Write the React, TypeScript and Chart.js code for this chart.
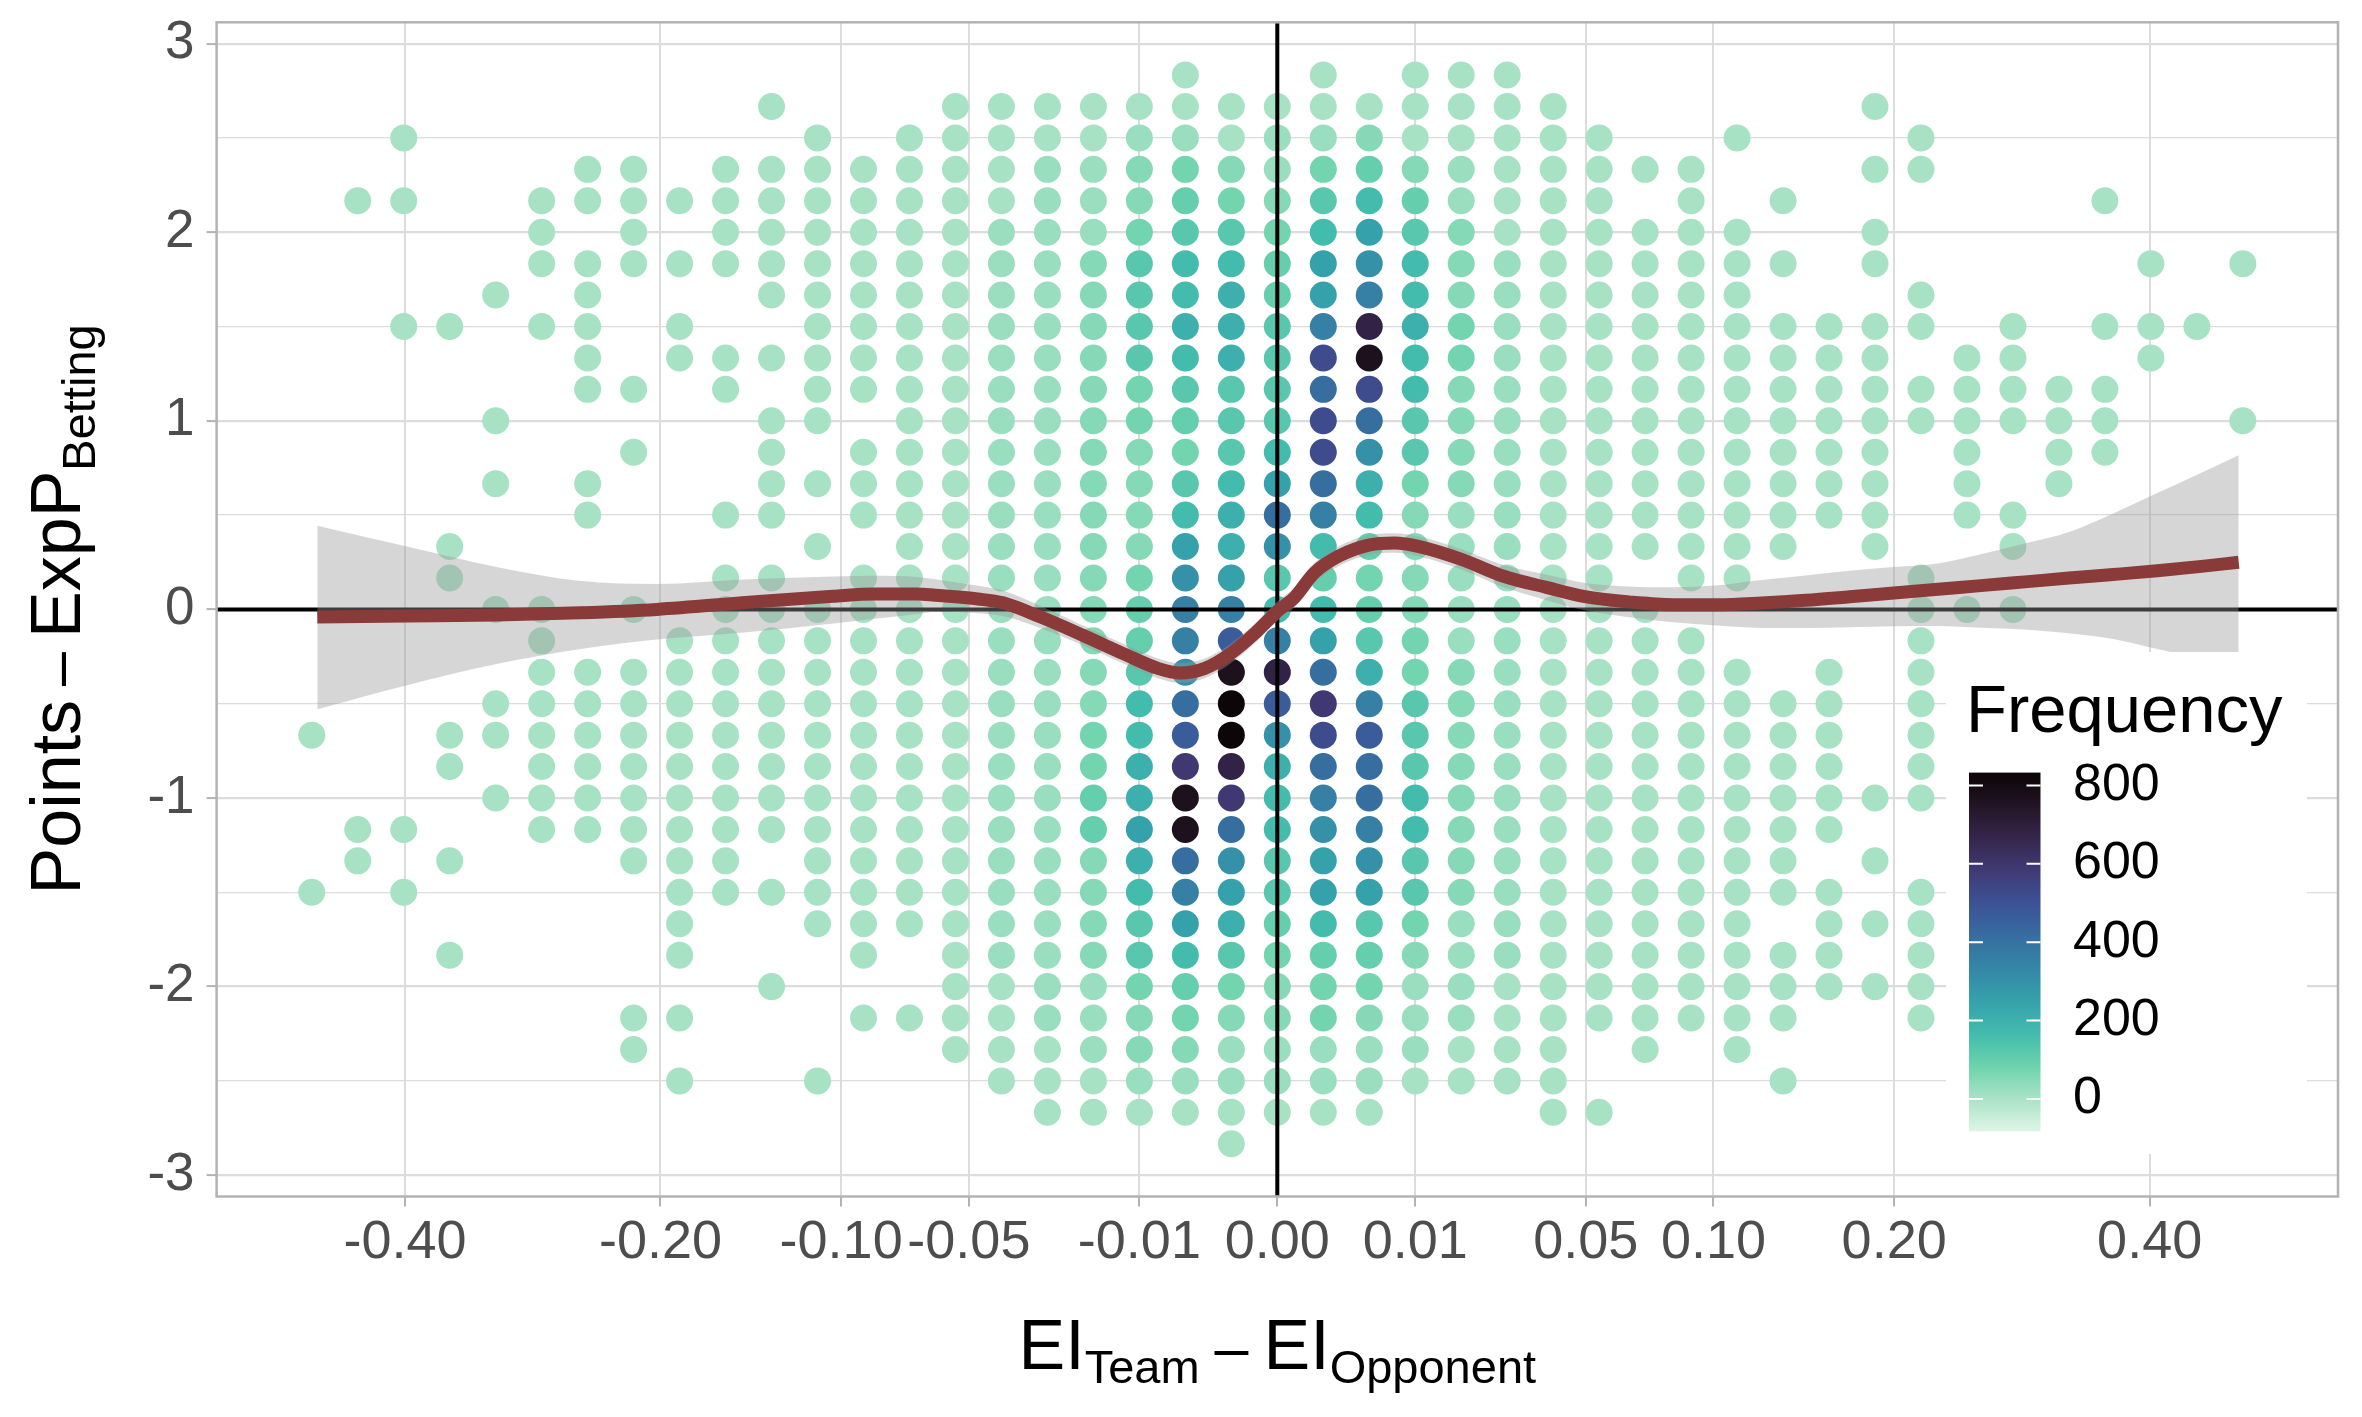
import React, { useEffect, useRef } from 'react';
import { Chart, registerables } from 'chart.js';

Chart.register(...registerables);

const FONT = "'Liberation Sans', Arial, sans-serif";
const W = 2362;
const H = 1417;

// x is drawn on a signed square-root scale: the dot columns are 1/30 apart there,
// rows are 1/6 of a point apart
const X_BIN = 1 / 30;
const Y_BIN = 1 / 6;
const FIRST_COL = -21;
const TOP_ROW = 17;

// frequency ('.' = empty cell)
const FREQ_CODE: Record<string, number> = {
    '1': 3, '2': 25, '3': 50, '4': 75, '5': 100, '6': 125, '7': 165, '8': 205, '9': 250,
    a: 300, b: 355, c: 415, d: 470, e: 525, f: 590, g: 680, h: 770, i: 825
};

// one string per column (x = -21/30 ... 21/30), rows from 2.83 down to -2.83, five per group
const COLUMNS = [
    '..... ..... ..... ..... .1... .1... .....',
    '....1 ..... ..... ..... ....1 1.... .....',
    '..1.1 ...1. ..... ..... ....1 .1... .....',
    '..... ...1. ..... 11... .11.. 1..1. .....',
    '..... ..1.. .1.1. ..1.. 11.1. ..... .....',
    '....1 11.1. ..... ..111 11111 ..... .....',
    '...11 .1111 1..11 ....1 11111 ..... .....',
    '...11 11... 1.1.. ..1.1 11111 1.... 11...',
    '....1 .1.11 ..... ...11 11111 1111. 1.1..',
    '...11 11..1 1...1 .1111 11111 11... .....',
    '.1.11 111.1 .1111 .1111 11111 .1..1 .....',
    '..111 11111 11.1. 1.111 11111 111.. ..1..',
    '...11 11111 1.111 .1111 11111 1111. 1....',
    '..111 11111 11111 11111 11111 111.. 1....',
    '.1111 11111 11111 11111 11111 11111 11...',
    '.1111 22222 22222 22222 22222 22221 111..',
    '.1122 22222 22222 22222 22222 22222 2111.',
    '.1122 23333 33333 33333 34455 33332 2211.',
    '.1233 46666 44333 34556 77889 87664 3321.',
    '11245 67787 65467 9abba cdfhh cb975 4321.',
    '.1134 67888 66678 89bdh iigfc a9864 32211',
    '.1223 45566 6679c a67bg da877 66543 3221.',
    '11246 799be ceecb 7579c fecba 99754 4221.',
    '.1357 9abgh eca87 54568 bdccb a9654 3221.',
    '11135 67787 76643 33344 66677 66432 221..',
    '11122 33344 33332 22223 33333 33222 211..',
    '11111 12222 22222 22222 22222 22221 111..',
    '.1111 11111 11111 11111 11111 11111 1111.',
    '..111 11111 11111 11111 11111 11111 1..1.',
    '...1. 11111 11111 1.111 11111 11111 11...',
    '...11 11111 11111 11.11 11111 11111 1....',
    '..1.. 11111 11111 11..1 11111 11111 11...',
    '....1 .1.11 11111 1.... 11111 11.11 1.1..',
    '..... ...11 11111 ....1 11111 .1111 .....',
    '.1.1. 11.11 11111 1.... ...1. 1.1.1 .....',
    '..11. ..11. 11... .1111 1111. .1111 1....',
    '..... ....1 11111 ..1.. ..... ..... .....',
    '..... ...11 11..1 1.1.. ..... ..... .....',
    '..... ..... 1111. ..... ..... ..... .....',
    '....1 ...1. 111.. ..... ..... ..... .....',
    '..... .1.11 ..... ..... ..... ..... .....',
    '..... ...1. ..... ..... ..... ..... .....',
    '..... .1... .1... ..... ..... ..... .....'
];

// loess fit with its confidence band; x on the signed-sqrt scale
const SMOOTH_S = [
    -0.696, -0.631, -0.566, -0.505, -0.450, -0.383, -0.322, -0.292, -0.261, -0.248,
    -0.217, -0.199, -0.172, -0.141, -0.110, -0.086, -0.071, -0.053, -0.034, -0.016,
    0.000, 0.012, 0.027, 0.045, 0.067, 0.085, 0.103, 0.134, 0.164, 0.195,
    0.223, 0.255, 0.287, 0.319, 0.351, 0.383, 0.415, 0.447, 0.479, 0.510,
    0.542, 0.574, 0.606, 0.638, 0.670, 0.697
];
const SMOOTH_FIT = [
    -0.040, -0.035, -0.030, -0.018, 0.000, 0.038, 0.070, 0.082, 0.082, 0.075,
    0.055, 0.035, -0.039, -0.137, -0.240, -0.314, -0.337, -0.314, -0.235, -0.125,
    -0.010, 0.060, 0.195, 0.284, 0.342, 0.352, 0.333, 0.264, 0.176, 0.117,
    0.068, 0.040, 0.025, 0.025, 0.034, 0.048, 0.067, 0.087, 0.107, 0.126,
    0.146, 0.166, 0.185, 0.205, 0.228, 0.250
];
const SMOOTH_HIGH = [
    0.444, 0.333, 0.225, 0.150, 0.135, 0.160, 0.175, 0.178, 0.172, 0.160,
    0.125, 0.100, 0.020, -0.085, -0.188, -0.262, -0.285, -0.262, -0.183, -0.073,
    0.042, 0.112, 0.247, 0.336, 0.394, 0.404, 0.385, 0.318, 0.235, 0.185,
    0.140, 0.122, 0.118, 0.128, 0.156, 0.180, 0.205, 0.225, 0.244, 0.293,
    0.350, 0.411, 0.509, 0.617, 0.725, 0.817
];
const SMOOTH_LOW = [
    -0.529, -0.402, -0.290, -0.210, -0.160, -0.120, -0.075, -0.050, -0.025, -0.012,
    -0.020, -0.035, -0.098, -0.190, -0.292, -0.366, -0.389, -0.366, -0.287, -0.177,
    -0.062, 0.008, 0.143, 0.232, 0.290, 0.300, 0.281, 0.210, 0.117, 0.049,
    -0.005, -0.042, -0.068, -0.085, -0.098, -0.099, -0.095, -0.089, -0.088, -0.097,
    -0.107, -0.127, -0.157, -0.210, -0.262, -0.317
];

const X_TICKS = [-0.4, -0.2, -0.1, -0.05, -0.01, 0, 0.01, 0.05, 0.1, 0.2, 0.4];
const X_TICK_LABELS = ['-0.40', '-0.20', '-0.10', '-0.05', '-0.01', '0.00', '0.01', '0.05', '0.10', '0.20', '0.40'];
const Y_TICKS = [-3, -2.5, -2, -1.5, -1, -0.5, 0, 0.5, 1, 1.5, 2, 2.5, 3];
const Y_TICK_LABELS = ['-3', '', '-2', '', '-1', '', '0', '', '1', '', '2', '', '3'];

const FREQ_TICKS = [0, 200, 400, 600, 800];
const FREQ_LIMITS = [-83, 833];

// mako, dark to light
const MAKO = ['#0B0405', '#231526', '#35264C', '#403A75', '#3D5296', '#366DA0',
    '#3487A6', '#35A1AB', '#43BBAD', '#6CD3AD', '#AAE3C6', '#DEF5E5'];

const PANEL_TOP = 22.3;
const PANEL_BOTTOM = 1196.5;
const PANEL_LEFT = 216.6;
const PANEL_RIGHT = 2338;

const ssqrt = (v: number) => Math.sign(v) * Math.sqrt(Math.abs(v));

const MAKO_RGB = MAKO.map(h => [1, 3, 5].map(i => parseInt(h.slice(i, i + 2), 16)));

function makoAt(t: number) {
    const p = Math.min(Math.max(t, 0), 1) * (MAKO_RGB.length - 1);
    const i = Math.min(Math.floor(p), MAKO_RGB.length - 2);
    const f = p - i;
    const a = MAKO_RGB[i];
    const b = MAKO_RGB[i + 1];
    const c = a.map((v, k) => Math.round(v + (b[k] - v) * f));
    return `rgb(${c[0]}, ${c[1]}, ${c[2]})`;
}

function freqColor(f: number) {
    return makoAt(1 - (f - FREQ_LIMITS[0]) / (FREQ_LIMITS[1] - FREQ_LIMITS[0]));
}

const dots: { x: number; y: number; f: number }[] = [];
COLUMNS.forEach((col, i) => {
    const cells = col.replace(/ /g, '');
    for (let j = 0; j < cells.length; j++) {
        const ch = cells[j];
        if (ch === '.') continue;
        dots.push({ x: (FIRST_COL + i) * X_BIN, y: (TOP_ROW - j) * Y_BIN, f: FREQ_CODE[ch] });
    }
});

const toPoints = (ys: number[]) => SMOOTH_S.map((s, i) => ({ x: s, y: ys[i] }));

type Run = { t: string; size: number; sub?: boolean; gap?: number };

const X_TITLE: Run[] = [
    { t: 'EI', size: 70 },
    { t: 'Team', size: 47, sub: true, gap: 15 },
    { t: '\u2013', size: 61, gap: 15 },
    { t: 'EI', size: 70 },
    { t: 'Opponent', size: 47, sub: true }
];
const Y_TITLE: Run[] = [
    { t: 'Points', size: 70, gap: 14 },
    { t: '\u2013', size: 61, gap: 14 },
    { t: 'ExpP', size: 70 },
    { t: 'Betting', size: 47, sub: true }
];

function runsWidth(ctx: CanvasRenderingContext2D, runs: Run[]) {
    return runs.reduce((w, r) => {
        ctx.font = `${r.size}px ${FONT}`;
        return w + ctx.measureText(r.t).width + (r.gap || 0);
    }, 0);
}

function drawRuns(ctx: CanvasRenderingContext2D, runs: Run[], x: number, y: number, drop: number) {
    let cx = x;
    runs.forEach(r => {
        ctx.font = `${r.size}px ${FONT}`;
        ctx.fillText(r.t, cx, y + (r.sub ? drop : 0));
        cx += ctx.measureText(r.t).width + (r.gap || 0);
    });
}

function drawLegend(ctx: CanvasRenderingContext2D) {
    const barX = 1969;
    const barTop = 772.6;
    const barW = 71.5;
    const barH = 358.8;
    const valueY = (v: number) =>
        barTop + barH - (v - FREQ_LIMITS[0]) / (FREQ_LIMITS[1] - FREQ_LIMITS[0]) * barH;

    ctx.save();
    ctx.fillStyle = '#FFFFFF';
    ctx.fillRect(1946, 652, 361, 502);

    ctx.fillStyle = '#000000';
    ctx.textAlign = 'left';
    ctx.textBaseline = 'alphabetic';
    ctx.font = `67px ${FONT}`;
    ctx.fillText('Frequency', 1966, 732);

    const grad = ctx.createLinearGradient(0, barTop + barH, 0, barTop);
    for (let i = 0; i <= 40; i++) {
        grad.addColorStop(i / 40, makoAt(1 - i / 40));
    }
    ctx.fillStyle = grad;
    ctx.fillRect(barX, barTop, barW, barH);

    ctx.strokeStyle = '#FFFFFF';
    ctx.lineWidth = 2;
    ctx.font = `52px ${FONT}`;
    ctx.fillStyle = '#000000';
    ctx.textBaseline = 'middle';
    FREQ_TICKS.forEach(v => {
        const y = valueY(v);
        ctx.beginPath();
        ctx.moveTo(barX, y);
        ctx.lineTo(barX + 14, y);
        ctx.moveTo(barX + barW - 14, y);
        ctx.lineTo(barX + barW, y);
        ctx.stroke();
        ctx.fillText(String(v), 2073, y);
    });
    ctx.restore();
}

const decor = {
    id: 'decor',
    afterDatasetDraw(chart: Chart, args: { index: number }) {
        if (args.index !== 0) return;
        // reference lines at 0, over the dots and under the ribbon
        const { ctx, chartArea: a, scales } = chart;
        const py = scales.y.getPixelForValue(0);
        const px = scales.x.getPixelForValue(0);
        ctx.save();
        ctx.strokeStyle = '#000000';
        ctx.lineWidth = 4;
        ctx.beginPath();
        ctx.moveTo(a.left, py);
        ctx.lineTo(a.right, py);
        ctx.moveTo(px, a.top);
        ctx.lineTo(px, a.bottom);
        ctx.stroke();
        ctx.restore();
    },
    afterDatasetsDraw(chart: Chart) {
        const { ctx, chartArea: a } = chart;
        ctx.save();
        ctx.strokeStyle = '#B3B3B3';
        ctx.lineWidth = 2.5;
        ctx.strokeRect(a.left, a.top, a.right - a.left, a.bottom - a.top);
        ctx.restore();
    },
    afterDraw(chart: Chart) {
        const { ctx, chartArea: a } = chart;
        drawLegend(ctx);

        ctx.save();
        ctx.fillStyle = '#000000';
        ctx.textAlign = 'left';
        ctx.textBaseline = 'alphabetic';
        const xw = runsWidth(ctx, X_TITLE);
        drawRuns(ctx, X_TITLE, (a.left + a.right) / 2 - xw / 2, 1369, 14);

        const yw = runsWidth(ctx, Y_TITLE);
        ctx.translate(79.5, (a.top + a.bottom) / 2);
        ctx.rotate(-Math.PI / 2);
        drawRuns(ctx, Y_TITLE, -yw / 2, 0, 15);
        ctx.restore();
    }
};

export default function App() {
    const canvas = useRef<HTMLCanvasElement>(null);

    useEffect(() => {
        const chart = new Chart(canvas.current as HTMLCanvasElement, {
            type: 'scatter',
            data: {
                datasets: [
                    {
                        data: dots,
                        order: 4,
                        pointRadius: 13.5,
                        pointBorderWidth: 0,
                        pointBackgroundColor: (c: any) => freqColor(c.raw ? c.raw.f : 0),
                        pointBorderColor: 'rgba(0,0,0,0)'
                    },
                    {
                        data: toPoints(SMOOTH_HIGH),
                        order: 3,
                        showLine: true,
                        pointRadius: 0,
                        borderColor: 'rgba(0,0,0,0)',
                        borderWidth: 0,
                        cubicInterpolationMode: 'monotone',
                        fill: false
                    },
                    {
                        data: toPoints(SMOOTH_LOW),
                        order: 2,
                        showLine: true,
                        pointRadius: 0,
                        borderColor: 'rgba(0,0,0,0)',
                        borderWidth: 0,
                        cubicInterpolationMode: 'monotone',
                        backgroundColor: 'rgba(153, 153, 153, 0.4)',
                        fill: '-1'
                    },
                    {
                        data: toPoints(SMOOTH_FIT),
                        order: 1,
                        showLine: true,
                        pointRadius: 0,
                        borderColor: '#8B3A3A',
                        borderWidth: 13,
                        cubicInterpolationMode: 'monotone',
                        fill: false
                    }
                ] as any
            },
            options: {
                responsive: false,
                animation: false,
                devicePixelRatio: 1,
                events: [],
                layout: { padding: { top: PANEL_TOP, right: W - PANEL_RIGHT, bottom: 0, left: 0 } },
                plugins: {
                    legend: { display: false },
                    tooltip: { enabled: false },
                    title: { display: false }
                },
                scales: {
                    x: {
                        type: 'linear',
                        min: -0.769,
                        max: 0.769,
                        afterBuildTicks: (s: any) => {
                            s.ticks = X_TICKS.map(v => ({ value: ssqrt(v) }));
                        },
                        afterFit: (s: any) => {
                            s.height = H - PANEL_BOTTOM;
                            s.paddingLeft = 0;
                            s.paddingRight = 0;
                        },
                        border: { display: false },
                        grid: {
                            color: '#DCDCDC',
                            lineWidth: 2,
                            drawTicks: true,
                            tickLength: 10,
                            tickColor: '#B3B3B3',
                            tickWidth: 2
                        },
                        ticks: {
                            autoSkip: false,
                            maxRotation: 0,
                            minRotation: 0,
                            padding: 4,
                            color: '#4D4D4D',
                            font: { family: FONT, size: 54 },
                            callback: (_v: any, i: number) => X_TICK_LABELS[i]
                        }
                    },
                    y: {
                        type: 'linear',
                        min: -3.113,
                        max: 3.113,
                        afterBuildTicks: (s: any) => {
                            s.ticks = Y_TICKS.map(v => ({ value: v }));
                        },
                        afterFit: (s: any) => {
                            s.width = PANEL_LEFT;
                            s.paddingTop = 0;
                            s.paddingBottom = 0;
                        },
                        border: { display: false },
                        grid: {
                            color: '#DCDCDC',
                            lineWidth: (c: any) => (Y_TICK_LABELS[c.index] ? 2.2 : 1.3),
                            drawTicks: true,
                            tickLength: 10,
                            tickColor: (c: any) => (Y_TICK_LABELS[c.index] ? '#B3B3B3' : 'rgba(0,0,0,0)'),
                            tickWidth: 2
                        },
                        ticks: {
                            autoSkip: false,
                            padding: 12,
                            color: '#4D4D4D',
                            font: { family: FONT, size: 53 },
                            callback: (_v: any, i: number) => Y_TICK_LABELS[i]
                        }
                    }
                }
            } as any,
            plugins: [decor as any]
        });
        return () => {
            chart.destroy();
        };
    }, []);

    return (
        <div style={{ position: 'absolute', left: 0, top: 0, width: W, height: H, background: '#fff' }}>
            <canvas ref={canvas} width={W} height={H} style={{ width: W, height: H, display: 'block' }}></canvas>
        </div>
    );
}
